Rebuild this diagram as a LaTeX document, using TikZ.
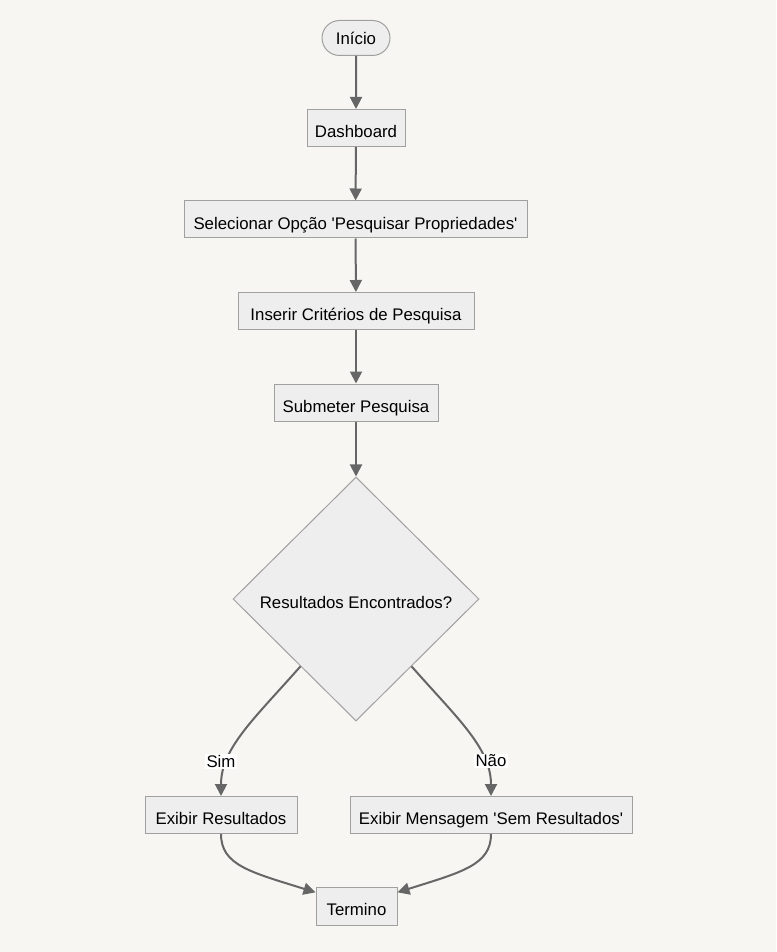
\documentclass[tikz,border=0pt]{standalone}
\usepackage{fontspec}
\setmainfont{Liberation Sans}
\usetikzlibrary{shapes.geometric,shapes.misc,arrows.meta,calc}
\definecolor{bgc}{HTML}{F7F6F3}
\definecolor{nodefill}{HTML}{EEEEEE}
\definecolor{nodeline}{HTML}{A0A0A0}
\definecolor{edgec}{HTML}{666666}
\newcommand{\sq}{\textquotesingle}
\begin{document}
\begin{tikzpicture}[x=0.75pt,y=-0.75pt,
  font=\fontsize{12.6pt}{15pt}\selectfont,
  box/.style={draw=nodeline,fill=nodefill,line width=0.75pt,inner sep=0pt,minimum height=27.75pt,text=black,text height=14.5pt,text depth=0pt},
  startbox/.style={draw=nodeline,fill=nodefill,line width=0.75pt,inner sep=0pt,rounded rectangle,minimum width=51pt,minimum height=26.25pt,text=black,text height=10pt,text depth=0pt},
  decision/.style={draw=nodeline,fill=nodefill,line width=0.75pt,diamond,inner sep=0pt,minimum width=184.5pt,minimum height=183pt,text=black,text height=13.5pt,text depth=0pt},
  edge/.style={draw=edgec,line width=1.5pt,-{Triangle[length=9pt,width=9pt]}},
  lbl/.style={fill=white,inner sep=1pt,text=black}]
\fill[bgc] (0,0) rectangle (776,952);
\useasboundingbox (0,0) rectangle (776,952);
\node[startbox] (inicio) at (356,38) {Início};
\node[box,minimum width=73.5pt] (dash) at (356,128) {Dashboard};
\node[box,minimum width=257.25pt] (sel) at (355.5,219.5) {Selecionar Opção \sq Pesquisar Propriedades\sq};
\node[box,minimum width=177pt] (ins) at (356,311) {Inserir Critérios de Pesquisa};
\node[box,minimum width=123pt] (sub) at (356,402.5) {Submeter Pesquisa};
\node[decision] (dec) at (356,599) {Resultados Encontrados?};
\node[box,minimum width=114pt] (res) at (221,815) {Exibir Resultados};
\node[box,minimum width=211.5pt] (msg) at (491,815) {Exibir Mensagem \sq Sem Resultados\sq};
\node[box,minimum width=60.75pt,minimum height=28.5pt] (fim) at (356.5,906) {Termino};
\draw[edge] (inicio) -- (dash);
\draw[edge] (dash) -- (sel);
\draw[edge] (sel) -- (ins);
\draw[edge] (ins) -- (sub);
\draw[edge] (sub) -- (dec);
\coordinate (dl) at ($(dec.west)!0.55!(dec.south)$);
\coordinate (dr) at ($(dec.east)!0.55!(dec.south)$);
\draw[edge] (dl) .. controls (255,718) and (221,748) .. (res.north);
\draw[edge] (dr) .. controls (457,718) and (491,748) .. (msg.north);
\node[lbl] (lsim) at (221,761) {Sim};
\node[lbl] (lnao) at (491,761) {Não};
\coordinate (fl) at ($(fim.north west)!0.15!(fim.south west)$);
\coordinate (fr) at ($(fim.north east)!0.15!(fim.south east)$);
\draw[edge] (res.south) .. controls (221,865) and (250,872) .. (fl);
\draw[edge] (msg.south) .. controls (491,865) and (462,872) .. (fr);
\end{tikzpicture}
\end{document}
